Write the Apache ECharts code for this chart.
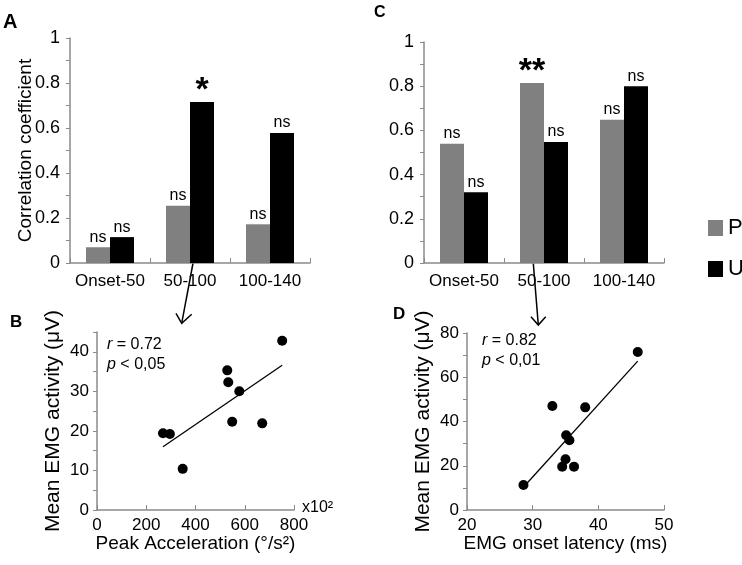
<!DOCTYPE html>
<html><head><meta charset="utf-8">
<script src="https://cdn.jsdelivr.net/npm/echarts@6/dist/echarts.min.js"></script>
<style>html,body{margin:0;padding:0;background:#fff}#c{width:742px;height:565px}</style>
</head><body><div id="c"></div>
<script>
// ---- data ----
var categories = ['Onset-50', '50-100', '100-140'];
var corrA_P = [0.07, 0.255, 0.172];
var corrA_U = [0.115, 0.716, 0.578];
var sigA_P = ['ns', 'ns', 'ns'];
var sigA_U = ['ns', '*', 'ns'];
var corrC_P = [0.54, 0.815, 0.648];
var corrC_U = [0.32, 0.548, 0.80];
var sigC_P = ['ns', '**', 'ns'];
var sigC_U = ['ns', 'ns', 'ns'];
// panel B: peak acceleration (x10^2 deg/s^2) vs mean EMG (uV)
var accelB = [268, 296, 348, 529, 533, 578, 549, 671, 752];
var emgB   = [19.4, 19.2, 10.4, 35.3, 32.3, 30.0, 22.3, 21.9, 42.8];
var fitB_x = [268, 752];
var fitB_y = [16.0, 36.6];
// panel D: EMG onset latency (ms) vs mean EMG (uV)
var latD = [28.6, 33.0, 38.0, 35.1, 35.6, 35.0, 34.5, 36.3, 46.0];
var emgD = [11.3, 47.0, 46.4, 33.8, 31.5, 22.9, 19.6, 19.6, 71.4];
var fitD_x = [29.1, 46.0];
var fitD_y = [12.0, 67.3];

var FONT = 'Liberation Sans, Arial, sans-serif';
var AX = '#8a8a8a';
function pairs(xs, ys){ return xs.map(function(x,i){ return [x, ys[i]]; }); }
function sigData(vals, sigs){
  return vals.map(function(v,i){ return {value:v, label:{formatter: sigs[i]==='ns' ? '{ns|ns}' : '{st|'+sigs[i]+'}'}}; });
}
var barLabel = {show:true, position:'top', distance:2, color:'#000', fontFamily:FONT,
  rich:{ns:{fontSize:16, fontFamily:FONT, color:'#000'}, st:{fontSize:34, fontWeight:'bold', fontFamily:FONT, color:'#000', lineHeight:22, padding:[0,0,-4,0]}}};
function catAxis(gi){
  return {type:'category', gridIndex:gi, data:categories,
    axisLine:{lineStyle:{color:AX, width:1.5}},
    axisTick:{show:true, inside:true, length:5, lineStyle:{color:AX}},
    axisLabel:{interval:0, color:'#000', fontSize:17, fontFamily:FONT, margin:10}};
}
function valAxisY(gi, min, max, step, labelEvery, name, gap, nameSize){
  return {type:'value', gridIndex:gi, min:min, max:max, interval:step,
    name:name, nameLocation:'middle', nameGap:gap, nameRotate:90, nameMoveOverlap:false,
    nameTextStyle:{color:'#000', fontSize:nameSize, fontFamily:FONT},
    splitLine:{show:false},
    axisLine:{show:true, lineStyle:{color:AX, width:1.5}},
    axisTick:{show:true, length:4, lineStyle:{color:AX}},
    axisLabel:{color:'#000', fontSize:gi<2?18:17, fontFamily:FONT, margin:gi<2?10:8,
      formatter:function(v){ var k=Math.round(v/step); return (k % labelEvery === 0) ? String(+v.toFixed(2)) : ''; }}};
}
function valAxisX(gi, min, max, step, name){
  return {type:'value', gridIndex:gi, min:min, max:max, interval:step,
    name:name, nameLocation:'middle', nameGap:24, nameMoveOverlap:false,
    nameTextStyle:{color:'#000', fontSize:19, fontFamily:FONT},
    splitLine:{show:false},
    axisLine:{lineStyle:{color:AX, width:1.5}},
    axisTick:{show:true, inside:true, length:5, lineStyle:{color:AX}},
    axisLabel:{color:'#000', fontSize:17, fontFamily:FONT, margin:7}};
}
var txt = {fill:'#000', fontSize:16, fontFamily:FONT};
function rtext(x,y,t){ return {type:'text', left:x, top:y, style:Object.assign({text:t, rich:{i:{fontStyle:'italic', fontSize:16, fontFamily:FONT}}}, txt)}; }

var option = {
  animation:false,
  textStyle:{fontFamily:FONT},
  grid:[
    {left:70, top:38, width:240, height:225},
    {left:424, top:42, width:240, height:221},
    {left:97, top:332, width:197, height:178},
    {left:467, top:333, width:197, height:177}
  ],
  legend:{data:['P','U'], orient:'vertical', left:703, top:212, itemWidth:15, itemHeight:16, itemGap:19,
    textStyle:{fontSize:22, color:'#000', fontFamily:FONT}, icon:'rect'},
  xAxis:[catAxis(0), catAxis(1), valAxisX(2,0,800,200,'Peak Acceleration (°/s²)'), valAxisX(3,20,50,10,'EMG onset latency (ms)')],
  yAxis:[
    valAxisY(0,0,1,0.1,2,'Correlation coefficient',35,19),
    valAxisY(1,0,1,0.1,2,'',0,19),
    valAxisY(2,0,45,5,2,'Mean EMG activity (μV)',33,21),
    valAxisY(3,0,80,10,2,'Mean EMG activity (μV)',33,21)
  ],
  series:[
    {type:'bar', name:'P', xAxisIndex:0, yAxisIndex:0, data:sigData(corrA_P, sigA_P), barWidth:24, barGap:'0%', itemStyle:{color:'#808080'}, label:barLabel},
    {type:'bar', name:'U', xAxisIndex:0, yAxisIndex:0, data:sigData(corrA_U, sigA_U), barWidth:24, barGap:'0%', itemStyle:{color:'#000'}, label:barLabel},
    {type:'bar', name:'P', xAxisIndex:1, yAxisIndex:1, data:sigData(corrC_P, sigC_P), barWidth:24, barGap:'0%', itemStyle:{color:'#808080'}, label:barLabel},
    {type:'bar', name:'U', xAxisIndex:1, yAxisIndex:1, data:sigData(corrC_U, sigC_U), barWidth:24, barGap:'0%', itemStyle:{color:'#000'}, label:barLabel},
    {type:'scatter', xAxisIndex:2, yAxisIndex:2, data:pairs(accelB, emgB), symbolSize:10, itemStyle:{color:'#000', opacity:1}},
    {type:'line', xAxisIndex:2, yAxisIndex:2, data:pairs(fitB_x, fitB_y), symbol:'none', lineStyle:{color:'#000', width:1.3}},
    {type:'scatter', xAxisIndex:3, yAxisIndex:3, data:pairs(latD, emgD), symbolSize:10, itemStyle:{color:'#000', opacity:1}},
    {type:'line', xAxisIndex:3, yAxisIndex:3, data:pairs(fitD_x, fitD_y), symbol:'none', lineStyle:{color:'#000', width:1.3}}
  ],
  graphic:[
    {type:'text', left:3, top:12, style:{text:'A', fontSize:20, fontWeight:'bold', fill:'#000', fontFamily:FONT}},
    {type:'text', left:374, top:5, style:{text:'C', fontSize:16, fontWeight:'bold', fill:'#000', fontFamily:FONT}},
    {type:'text', left:10, top:314, style:{text:'B', fontSize:17, fontWeight:'bold', fill:'#000', fontFamily:FONT}},
    {type:'text', left:393, top:306, style:{text:'D', fontSize:17, fontWeight:'bold', fill:'#000', fontFamily:FONT}},
    rtext(107,337,'{i|r} = 0.72'), rtext(107,357,'{i|p} < 0,05'),
    rtext(482,333,'{i|r} = 0.82'), rtext(482,353,'{i|p} < 0,01'),
    {type:'text', left:302, top:500, style:{text:'x10²', fontSize:16, fill:'#000', fontFamily:FONT}},
    {type:'line', shape:{x1:193.3, y1:261.7, x2:181.7, y2:323.3}, style:{stroke:'#000', lineWidth:1.5}},
    {type:'polyline', shape:{points:[[176,313.3],[181.7,323.3],[191.7,314.3]]}, style:{stroke:'#000', lineWidth:1.5, fill:null}},
    {type:'line', shape:{x1:533.3, y1:263.3, x2:538.3, y2:325}, style:{stroke:'#000', lineWidth:1.5}},
    {type:'polyline', shape:{points:[[531,316.7],[538.3,325],[545.7,316.7]]}, style:{stroke:'#000', lineWidth:1.5, fill:null}}
  ]
};
var chart = echarts.init(document.getElementById('c'), null, {renderer:'canvas'});
chart.setOption(option);
</script></body></html>
